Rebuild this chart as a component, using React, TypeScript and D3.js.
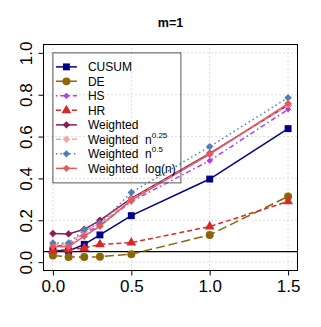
import * as d3 from 'd3';
import React, { useEffect, useRef } from 'react';

const xValues = [0, 0.1, 0.2, 0.3, 0.5, 1.0, 1.5];
const cusum = [0.055, 0.053, 0.085, 0.13, 0.222, 0.397, 0.638];
const de = [0.032, 0.025, 0.024, 0.026, 0.038, 0.13, 0.314];
const hs = [0.078, 0.08, 0.14, 0.175, 0.29, 0.485, 0.73];
const hr = [0.055, 0.06, 0.067, 0.085, 0.093, 0.17, 0.29];
const weighted = [0.137, 0.135, 0.157, 0.2, 0.305, 0.52, 0.75];
const weightedN025 = [0.085, 0.085, 0.145, 0.185, 0.3, 0.515, 0.752];
const weightedN05 = [0.092, 0.092, 0.155, 0.185, 0.333, 0.552, 0.786];
const weightedLog = [0.075, 0.073, 0.124, 0.172, 0.296, 0.516, 0.758];

const xTicks = [0, 0.5, 1.0, 1.5];
const yTicks = [0, 0.2, 0.4, 0.6, 0.8, 1.0];
const refLevel = 0.05;

const series = [
  { name: 'CUSUM', sup: '', values: cusum, color: '#00008b', dash: null, shape: 'square', size: 48 },
  { name: 'DE', sup: '', values: de, color: '#8b6508', dash: '9,4', shape: 'circle', size: 50 },
  { name: 'HS', sup: '', values: hs, color: '#b23aee', dash: '1.5,3,5,3', shape: 'diamond', size: 20 },
  { name: 'HR', sup: '', values: hr, color: '#d42a2a', dash: '5,3', shape: 'triangle', size: 42 },
  { name: 'Weighted', sup: '', values: weighted, color: '#8b1a55', dash: null, shape: 'diamond', size: 28 },
  { name: 'Weighted  n', sup: '0.25', values: weightedN025, color: '#f4a3a8', dash: '5,3', shape: 'diamond', size: 28 },
  { name: 'Weighted  n', sup: '0.5', values: weightedN05, color: '#4f7fb5', dash: '1.5,3', shape: 'diamond', size: 28 },
  { name: 'Weighted  log(n)', sup: '', values: weightedLog, color: '#e8585a', dash: null, shape: 'diamond', size: 28 },
];

function symbolPath(shape: string, size: number) {
  if (shape === 'square') return d3.symbol(d3.symbolSquare, size)();
  if (shape === 'circle') return d3.symbol(d3.symbolCircle, size)();
  if (shape === 'triangle') return d3.symbol(d3.symbolTriangle, size)();
  return d3.symbol(d3.symbolSquare, size)();
}

export default function App() {
  const svgRef = useRef(null);
  const width = 321;
  const height = 327;

  useEffect(() => {
    const svg = d3.select(svgRef.current);
    svg.selectAll('*').remove();

    const x = d3.scaleLinear().domain([-0.06, 1.56]).range([43.5, 297.5]);
    const y = d3.scaleLinear().domain([-0.04, 1.04]).range([270.5, 44.5]);
    const font = 'Liberation Sans, Arial, Helvetica, sans-serif';

    // grid
    const grid = svg.append('g').attr('stroke', '#bdbdbd').attr('stroke-dasharray', '1,3').attr('stroke-width', 1);
    xTicks.forEach((t) => {
      grid.append('line').attr('x1', x(t)).attr('x2', x(t)).attr('y1', 44.5).attr('y2', 270.5);
    });
    yTicks.forEach((t) => {
      grid.append('line').attr('x1', 43.5).attr('x2', 297.5).attr('y1', y(t)).attr('y2', y(t));
    });

    // reference line
    svg.append('line')
      .attr('x1', 43.5).attr('x2', 297.5)
      .attr('y1', y(refLevel)).attr('y2', y(refLevel))
      .attr('stroke', 'black').attr('stroke-width', 1.2);

    // series
    const line = d3.line<number>().x((d, i) => x(xValues[i])).y((d) => y(d));
    series.forEach((s) => {
      svg.append('path')
        .attr('d', line(s.values))
        .attr('fill', 'none')
        .attr('stroke', s.color)
        .attr('stroke-width', 1.5)
        .attr('stroke-dasharray', s.dash);
      svg.selectAll(null)
        .data(s.values)
        .enter()
        .append('path')
        .attr('d', symbolPath(s.shape, s.size))
        .attr('transform', (d, i) => `translate(${x(xValues[i])},${y(d)})` + (s.shape === 'diamond' ? ' rotate(45)' : ''))
        .attr('fill', s.color);
    });

    // box
    svg.append('rect')
      .attr('x', 43.5).attr('y', 44.5)
      .attr('width', 254).attr('height', 226)
      .attr('fill', 'none').attr('stroke', 'black').attr('stroke-width', 1);

    // axes
    svg.append('g')
      .attr('transform', 'translate(0,270.5)')
      .call(d3.axisBottom(x).tickValues(xTicks).tickSize(5).tickPadding(4).tickFormat(d3.format('.1f')))
      .call((g) => g.select('.domain').remove())
      .selectAll('text')
      .attr('font-family', font)
      .attr('font-size', 17)
      .attr('fill', 'black');

    const yAxis = svg.append('g')
      .attr('transform', 'translate(43.5,0)')
      .call(d3.axisLeft(y).tickValues(yTicks).tickSize(5).tickFormat(d3.format('.1f')))
      .call((g) => g.select('.domain').remove());
    yAxis.selectAll('.tick text')
      .attr('font-family', font)
      .attr('font-size', 17)
      .attr('fill', 'black')
      .attr('text-anchor', 'middle')
      .attr('dy', 0)
      .attr('x', 0)
      .attr('transform', 'translate(-12,0) rotate(-90)');

    // title
    svg.append('text')
      .attr('x', 170.5).attr('y', 27)
      .attr('text-anchor', 'middle')
      .attr('font-family', font)
      .attr('font-weight', 'bold')
      .attr('font-size', 12.5)
      .text('m=1');

    // legend
    const lx = x(0);
    const ly = y(1.0);
    const legend = svg.append('g').attr('transform', `translate(${lx},${ly})`);
    legend.append('rect')
      .attr('x', 0).attr('y', 0)
      .attr('width', 128).attr('height', 130)
      .attr('fill', 'none').attr('stroke', '#555').attr('stroke-width', 1);
    series.forEach((s, i) => {
      const row = legend.append('g').attr('transform', `translate(0,${14 + i * 14.5})`);
      row.append('line')
        .attr('x1', 3).attr('x2', 24).attr('y1', 0).attr('y2', 0)
        .attr('stroke', s.color).attr('stroke-width', 1.5)
        .attr('stroke-dasharray', s.dash);
      row.append('path')
        .attr('d', symbolPath(s.shape, s.size))
        .attr('transform', 'translate(13.5,0)' + (s.shape === 'diamond' ? ' rotate(45)' : ''))
        .attr('fill', s.color);
      const t = row.append('text')
        .attr('x', 35).attr('y', 4.5)
        .attr('font-family', font)
        .attr('font-size', 12)
        .attr('xml:space', 'preserve')
        .style('white-space', 'pre')
        .text(s.name);
      if (s.sup) {
        t.append('tspan').attr('font-size', 8).attr('dy', -6).text(s.sup);
      }
    });
  }, []);

  return (
    <div style={{ position: 'absolute', left: 0, top: 0 }}>
      <svg ref={svgRef} width={width} height={height} style={{ display: 'block', background: 'white' }}></svg>
    </div>
  );
}
